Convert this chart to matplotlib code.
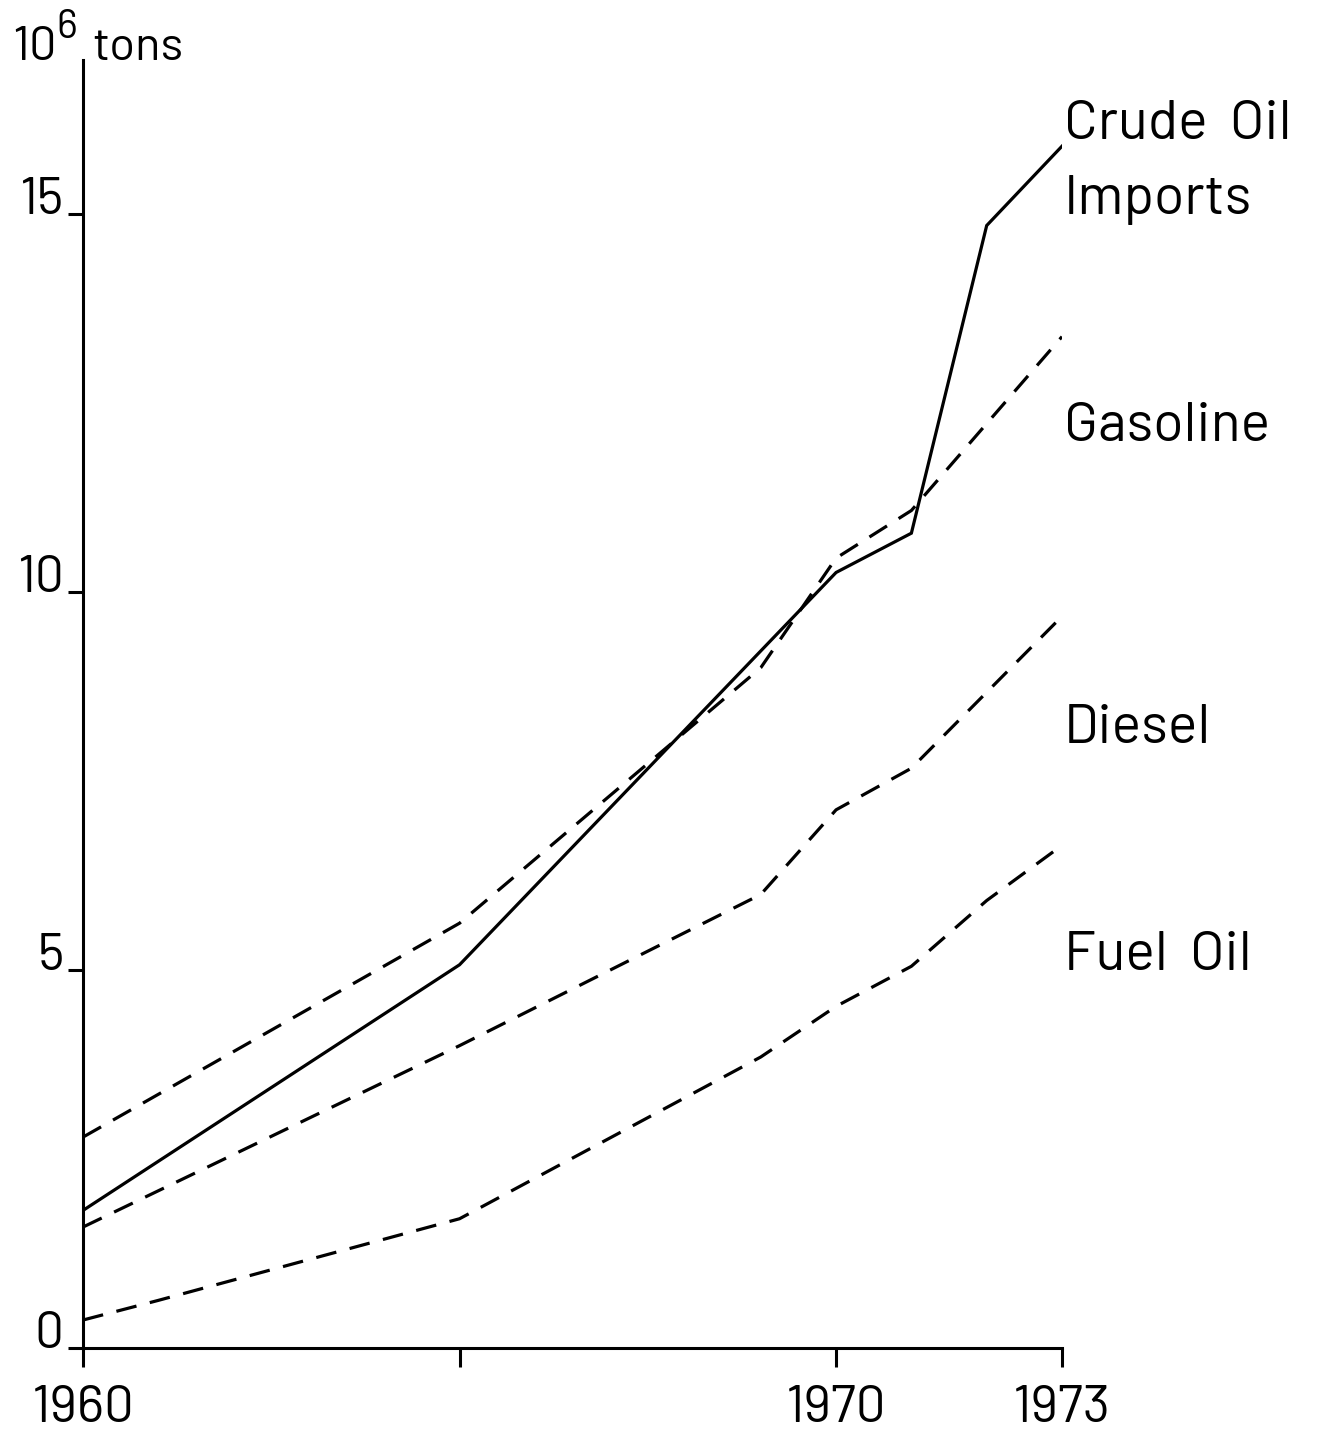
import matplotlib.pyplot as plt

# data (10^6 tons)
crude_years = [1960, 1965, 1970, 1971, 1972, 1973]
crude_vals = [1.82, 5.07, 10.26, 10.78, 14.85, 15.9]

gas_years = [1960, 1965, 1969, 1970, 1971, 1973]
gas_vals = [2.79, 5.62, 9.0, 10.45, 11.08, 13.38]

diesel_years = [1960, 1965, 1969, 1970, 1971, 1973]
diesel_vals = [1.6, 4.0, 6.0, 7.12, 7.67, 9.68]

fuel_years = [1960, 1961, 1965, 1969, 1970, 1971, 1972, 1973]
fuel_vals = [0.37, 0.63, 1.71, 3.85, 4.52, 5.05, 5.92, 6.65]

x_ticks = [1960, 1965, 1970, 1973]
x_labels = ["1960", "", "1970", "1973"]
y_ticks = [0, 5, 10, 15]
y_labels = ["0", "5", "10", "15"]

series_names = ["Crude  Oil", "Imports", "Gasoline", "Diesel", "Fuel  Oil"]
name_y = [16.0, 15.0, 12.0, 8.0, 5.0]

# narrow plotter-like lettering
font = ["Barlow", "DejaVu Sans"]

fig = plt.figure(figsize=(13.19, 14.33), dpi=100)
ax = fig.add_axes([83 / 1319, 85 / 1433, 979 / 1319, 1288 / 1433])

lw = 2.3
dash = (6.5, 4.3)
ax.plot(crude_years, crude_vals, color="black", lw=lw, solid_joinstyle="miter")
ax.plot(gas_years, gas_vals, color="black", lw=lw, dashes=dash)
ax.plot(diesel_years, diesel_vals, color="black", lw=lw, dashes=dash)
ax.plot(fuel_years, fuel_vals, color="black", lw=lw, dashes=dash)

ax.set_xlim(1960, 1973)
ax.set_ylim(0, 17.04)

for side in ["top", "right"]:
    ax.spines[side].set_visible(False)
for side in ["left", "bottom"]:
    ax.spines[side].set_linewidth(2.2)

ax.set_xticks(x_ticks)
ax.set_xticklabels(x_labels, family=font, fontsize=38)
ax.set_yticks(y_ticks)
ax.set_yticklabels(y_labels, family=font, fontsize=37)
ax.tick_params(axis="x", direction="out", length=14, width=2.2, pad=13)
ax.tick_params(axis="y", direction="out", length=11, width=2.2, pad=3)
for lab in ax.get_yticklabels():
    lab.set_va("baseline")

# series names at the right end
for name, yv in zip(series_names, name_y):
    ax.text(1973.02, yv, name, family=font, fontsize=40,
            ha="left", va="baseline", clip_on=False)

# unit label
ax.text(1959.06, 17.04, "10", family=font, fontsize=35,
        ha="left", va="baseline", clip_on=False)
ax.text(1959.64, 17.33, "6", family=font, fontsize=29,
        ha="left", va="baseline", clip_on=False)
ax.text(1960.12, 17.04, "tons", family=font, fontsize=34,
        ha="left", va="baseline", clip_on=False)

fig.savefig("out.png", dpi=100)
